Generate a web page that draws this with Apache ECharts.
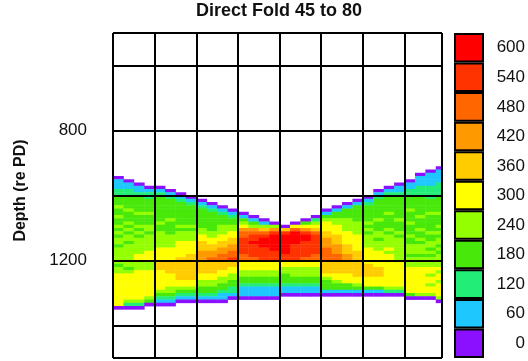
<!DOCTYPE html>
<html>
<head>
<meta charset="utf-8">
<script src="https://cdn.jsdelivr.net/npm/echarts@6/dist/echarts.min.js"></script>
<style>
  html, body { margin: 0; padding: 0; background: #fff; }
  #chart { width: 528px; height: 361px; }
</style>
</head>
<body>
<div id="chart"></div>
<script>
// ---- data ----
const titleText = 'Direct Fold 45 to 80';
const axisName = 'Depth (re PD)';
// fold levels shown in the colour key (bottom to top)
const levels = [0, 60, 120, 180, 240, 300, 360, 420, 480, 540, 600];
const levelLabels = ['0', '60', '120', '180', '240', '300', '360', '420', '480', '540', '600'];
// labelled depths on the vertical axis
const depthLabels = [800, 1200];
const depthRange = [500, 1500];
const offsetRange = [0, 7.9];
// grid of bins: one string per offset column (0.25 wide), one char per 10 m depth bin from 900 m
// char = level index (0-9, a = 10), '.' = no coverage; spaces only group the bins by ten
const binStart = 900;
const binDepth = 10;
const colWidth = 0.25;
const profiles = [
  '....011122 3334334334 3434434444 4344555555 55550.',
  '.....01122 3333433343 4344344444 4434555555 55420.',
  '......0112 3333343334 3434444455 4445555555 55420.',
  '.......012 2333343334 4344444555 4445555555 5430..',
  '.......012 3333333343 3444445555 6665555554 3210..',
  '........01 2333333433 3344445555 6666555544 3210..',
  '.........0 1233333334 3444555556 6666665543 210...',
  '.......... 0123333334 3444555566 6666665543 210...',
  '.......... .012333333 4455666777 6666554433 210...',
  '.......... ..01233333 3445566778 6666554433 210...',
  '.......... ...0123334 4455667788 6665544332 110...',
  '.......... ....012334 4556677889 6655443322 10....',
  '.......... .....01345 7889999988 5554433211 10....',
  '.......... ......0134 7899a99998 5554433211 10....',
  '.......... .......014 689aaa9999 5554433211 10....',
  '.......... ........04 79aaaaa999 5554433211 10....',
  '.......... .........0 69aaaaaa99 5544333211 0.....',
  '.......... ........05 8aaaa99999 5544433211 0.....',
  '.......... .......035 79aa999998 5544433211 0.....',
  '.......... ......0245 6899999988 5544433211 0.....',
  '.......... ....013455 5667778888 6666543331 0.....',
  '.......... ...0133445 5566677788 6666554331 0.....',
  '.......... ..01333444 4555566677 6666555331 0.....',
  '.......... .013333344 4455555666 6666655431 0.....',
  '.......... 0123333343 4344445555 5666655531 0.....',
  '........01 2333333433 3443444555 5566655531 0.....',
  '.......012 3333343333 4344445455 5555555542 0.....',
  '......0112 3333333433 3434444444 5555555542 0.....',
  '.....01122 3333433343 3343344434 4455555555 30....',
  '...0111222 3333334333 4334344434 4455555555 40....',
  '..01111222 2333343333 3433443434 4455455455 40....',
  '.011112222 3333343334 3434434344 4454554555 540...'
];

// ---- styles ----
const levelColors = ['#8A10FF', '#1EC8FF', '#22EE77', '#47E80A', '#94FF00', '#FFFF00',
                     '#FFCC00', '#FF9900', '#FF6600', '#FF3300', '#FF0000'];
const textFont = 'Liberation Sans, Arial, Helvetica, sans-serif';

// ---- build cells ----
const cells = [];
profiles.forEach((col, c) => {
  const bins = col.replace(/ /g, '');
  for (let i = 0; i < bins.length; i++) {
    const ch = bins[i];
    if (ch === '.') continue;
    cells.push([c * colWidth, binStart + i * binDepth, levels[parseInt(ch, 11)]]);
  }
});

const chart = echarts.init(document.getElementById('chart'), null, { renderer: 'canvas' });

chart.setOption({
  animation: false,
  backgroundColor: '#fff',
  title: {
    text: titleText,
    left: 196,
    top: 2,
    padding: 0,
    textStyle: { fontFamily: textFont, fontSize: 18, fontWeight: 'bold', color: '#111' }
  },
  grid: [
    { left: 113, top: 33, width: 329, height: 325, containLabel: false },
    { left: 454, top: 33, width: 31, height: 325, containLabel: false }
  ],
  xAxis: [
    {
      gridIndex: 0, type: 'value', min: offsetRange[0], max: offsetRange[1], interval: 1, z: 10,
      axisLine: { show: false }, axisTick: { show: false }, axisLabel: { show: false },
      splitLine: { show: true, showMinLine: true, showMaxLine: true, lineStyle: { color: '#000', width: 2 } }
    },
    {
      gridIndex: 1, type: 'value', min: 0, max: 1, show: false
    }
  ],
  yAxis: [
    {
      gridIndex: 0, type: 'value', inverse: true, min: depthRange[0], max: depthRange[1], splitNumber: 5, z: 10,
      name: axisName, nameLocation: 'middle', nameGap: 84, nameRotate: 90,
      nameTextStyle: { fontFamily: textFont, fontSize: 16, fontWeight: 'bold', color: '#111', padding: [0, 0, 0, 10] },
      axisLine: { show: false }, axisTick: { show: false },
      axisLabel: {
        margin: 26, fontFamily: textFont, fontSize: 17, color: '#111',
        showMinLabel: false, showMaxLabel: false,
        formatter: v => depthLabels.includes(v) ? String(v) : ''
      },
      splitLine: { show: true, showMinLine: true, showMaxLine: true, lineStyle: { color: '#000', width: 2 } }
    },
    {
      gridIndex: 1, type: 'category', data: levelLabels, position: 'right',
      axisLine: { show: false }, axisTick: { show: false }, splitLine: { show: false },
      axisLabel: { margin: 41, align: 'right', fontFamily: textFont, fontSize: 17, color: '#111' }
    }
  ],
  visualMap: {
    type: 'piecewise', show: false, seriesIndex: 0, dimension: 2,
    pieces: levels.map((v, k) => ({ value: v, color: levelColors[k] }))
  },
  series: [
    {
      type: 'custom',
      xAxisIndex: 0, yAxisIndex: 0,
      dimensions: ['offset', 'depth', 'fold'],
      encode: { x: 0, y: 1 },
      data: cells,
      z: 2,
      renderItem: (params, api) => {
        const x0 = api.value(0), d0 = api.value(1);
        const p0 = api.coord([x0, d0]);
        const p1 = api.coord([x0 + colWidth, d0 + binDepth]);
        const cs = params.coordSys;
        const rect = echarts.graphic.clipRectByRect(
          { x: p0[0], y: p0[1], width: p1[0] - p0[0] + 0.4, height: p1[1] - p0[1] + 0.4 },
          { x: cs.x, y: cs.y, width: cs.width, height: cs.height }
        );
        if (!rect) return null;
        return { type: 'rect', shape: rect, style: { fill: api.visual('color') } };
      }
    },
    {
      type: 'bar',
      xAxisIndex: 1, yAxisIndex: 1,
      barWidth: '100%',
      silent: true,
      data: levels.map((v, k) => ({
        value: 1,
        itemStyle: { color: levelColors[k], borderColor: '#000', borderWidth: 2 }
      }))
    }
  ]
});
</script>
</body>
</html>
